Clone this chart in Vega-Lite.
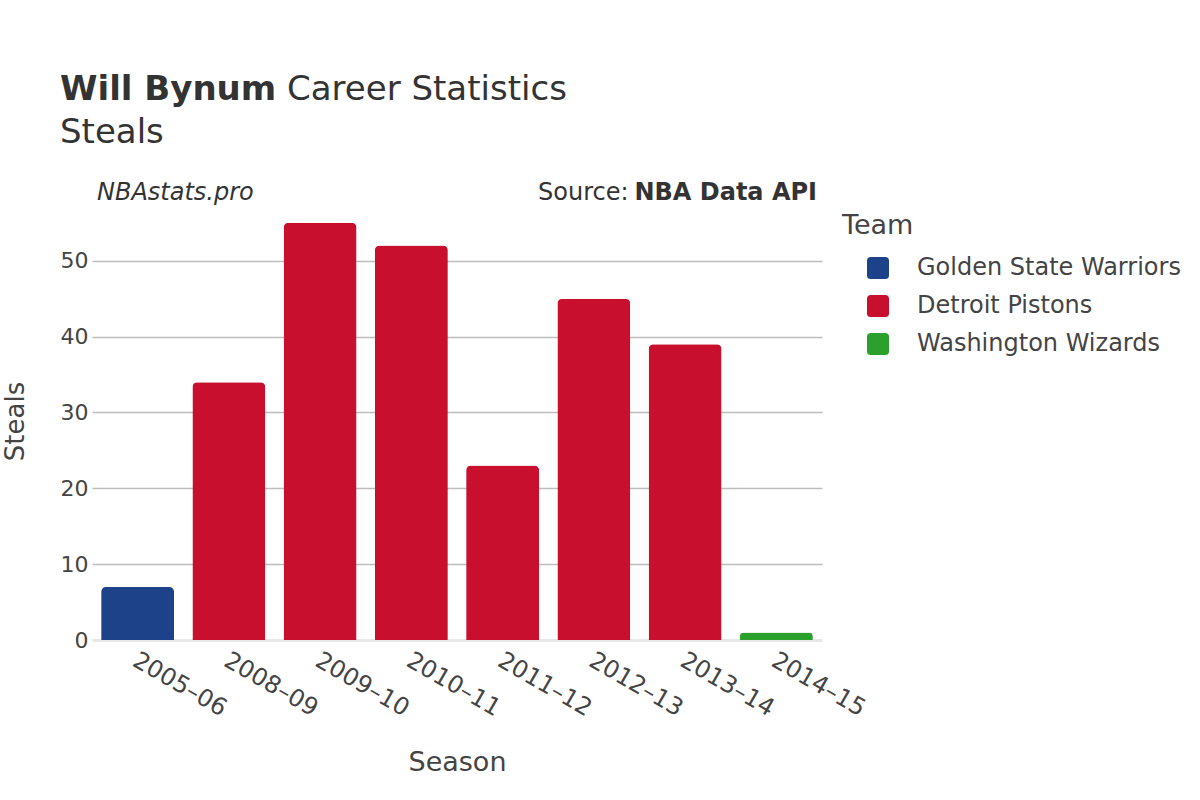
{
  "$schema": "https://vega.github.io/schema/vega-lite/v6.json",
  "width": 730,
  "height": 438,
  "autosize": {"type": "none"},
  "padding": {"left": 92, "top": 202, "right": 378, "bottom": 160},
  "config": {
    "font": "DejaVu Sans",
    "view": {"stroke": null},
    "axis": {"labelFont": "DejaVu Sans", "titleFont": "DejaVu Sans"},
    "legend": {"labelFont": "DejaVu Sans", "titleFont": "DejaVu Sans"}
  },
  "layer": [
    {
      "data": {
        "values": [
          {"Season": "2005–06", "Team": "Golden State Warriors", "Steals": 7},
          {"Season": "2008–09", "Team": "Detroit Pistons", "Steals": 34},
          {"Season": "2009–10", "Team": "Detroit Pistons", "Steals": 55},
          {"Season": "2010–11", "Team": "Detroit Pistons", "Steals": 52},
          {"Season": "2011–12", "Team": "Detroit Pistons", "Steals": 23},
          {"Season": "2012–13", "Team": "Detroit Pistons", "Steals": 45},
          {"Season": "2013–14", "Team": "Detroit Pistons", "Steals": 39},
          {"Season": "2014–15", "Team": "Washington Wizards", "Steals": 1}
        ]
      },
      "mark": {"type": "bar", "cornerRadiusTopLeft": 5, "cornerRadiusTopRight": 5},
      "encoding": {
        "x": {
          "field": "Season",
          "type": "nominal",
          "sort": null,
          "scale": {"paddingInner": 0.2, "paddingOuter": 0.1},
          "axis": {
            "title": "Season",
            "labelAngle": 30,
            "labelAlign": "left",
            "labelBaseline": "top",
            "labelPadding": 8,
            "labelOffset": 3,
            "labelFontSize": 24,
            "labelColor": "#444444",
            "ticks": false,
            "domainColor": "#e8e8e8",
            "domainWidth": 3,
            "titleFontSize": 27,
            "titleFontWeight": "normal",
            "titleColor": "#444444",
            "titleY": 130,
            "titleBaseline": "alphabetic"
          }
        },
        "y": {
          "field": "Steals",
          "type": "quantitative",
          "scale": {"domain": [0, 57.75], "nice": false},
          "axis": {
            "title": "Steals",
            "values": [0, 10, 20, 30, 40, 50],
            "domain": false,
            "ticks": false,
            "labelPadding": 4,
            "labelFontSize": 22,
            "labelColor": "#444444",
            "gridColor": "#bdbdbd",
            "gridWidth": 1.6,
            "gridOpacity": {"condition": {"test": "datum.value === 0", "value": 0}, "value": 1},
            "titleFontSize": 26,
            "titleFontWeight": "normal",
            "titleColor": "#444444",
            "titleAngle": -90,
            "titleX": -69,
            "titleY": 219,
            "titleAlign": "center",
            "titleBaseline": "alphabetic"
          }
        },
        "color": {
          "field": "Team",
          "type": "nominal",
          "scale": {
            "domain": ["Golden State Warriors", "Detroit Pistons", "Washington Wizards"],
            "range": ["#1d428a", "#c8102e", "#2ca02c"]
          },
          "legend": {
            "title": "Team",
            "orient": "none",
            "legendX": 750,
            "legendY": 11,
            "titleFontSize": 27,
            "titleFontWeight": "normal",
            "titleColor": "#444444",
            "titlePadding": 16,
            "labelFontSize": 24,
            "labelColor": "#444444",
            "labelLimit": 400,
            "symbolType": "M -0.65 -1 L 0.65 -1 Q 1 -1 1 -0.65 L 1 0.65 Q 1 1 0.65 1 L -0.65 1 Q -1 1 -1 0.65 L -1 -0.65 Q -1 -1 -0.65 -1 Z",
            "symbolSize": 484,
            "symbolStrokeWidth": 0,
            "symbolOpacity": 1,
            "symbolOffset": 24,
            "labelOffset": 27,
            "rowPadding": 14
          }
        }
      }
    },
    {
      "data": {"values": [{}]},
      "mark": {"type": "text", "text": "Will Bynum", "fontSize": 34, "fontWeight": "bold", "align": "left", "baseline": "alphabetic", "color": "#333333"},
      "encoding": {"x": {"value": -32}, "y": {"value": -102}}
    },
    {
      "data": {"values": [{}]},
      "mark": {"type": "text", "text": "Career Statistics", "fontSize": 34, "align": "left", "baseline": "alphabetic", "color": "#333333"},
      "encoding": {"x": {"value": 195}, "y": {"value": -102}}
    },
    {
      "data": {"values": [{}]},
      "mark": {"type": "text", "text": "Steals", "fontSize": 34, "align": "left", "baseline": "alphabetic", "color": "#333333"},
      "encoding": {"x": {"value": -32}, "y": {"value": -59}}
    },
    {
      "data": {"values": [{}]},
      "mark": {"type": "text", "text": "NBAstats.pro", "fontSize": 24, "fontStyle": "italic", "align": "left", "baseline": "alphabetic", "color": "#333333"},
      "encoding": {"x": {"value": 5}, "y": {"value": -2}}
    },
    {
      "data": {"values": [{}]},
      "mark": {"type": "text", "text": "Source:", "fontSize": 24, "align": "left", "baseline": "alphabetic", "color": "#333333"},
      "encoding": {"x": {"value": 446}, "y": {"value": -2}}
    },
    {
      "data": {"values": [{}]},
      "mark": {"type": "text", "text": "NBA Data API", "fontSize": 24, "fontWeight": "bold", "align": "right", "baseline": "alphabetic", "color": "#333333"},
      "encoding": {"x": {"value": 725}, "y": {"value": -2}}
    }
  ]
}
